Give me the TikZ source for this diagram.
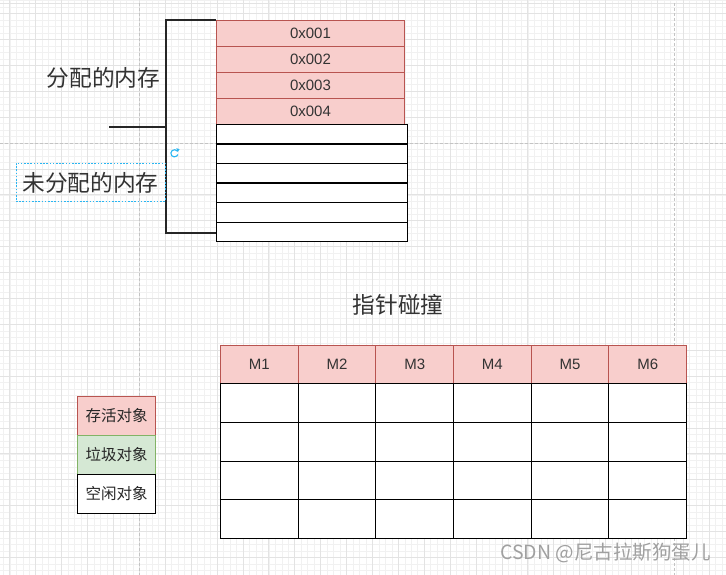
\documentclass[tikz,border=0pt]{standalone}
\usepackage{fontspec}
\setmainfont{Liberation Sans}
\newfontfamily\cjk{Noto Sans CJK SC}
\usetikzlibrary{arrows.meta}
\definecolor{redfill}{HTML}{F8CECC}
\definecolor{redline}{HTML}{B85450}
\definecolor{greenfill}{HTML}{D5E8D4}
\definecolor{greenline}{HTML}{82B366}
\definecolor{gridmajor}{HTML}{E3E3E3}
\definecolor{gridminor}{HTML}{F1F1F1}
\definecolor{pageline}{HTML}{C4C4C4}
\definecolor{selblue}{HTML}{29B6F2}
\definecolor{txt}{HTML}{333333}
\definecolor{wm}{HTML}{A0A0A0}
\begin{document}
\begin{tikzpicture}[x=1pt,y=-1pt,
  minorline/.style={gridminor, line width=0.5pt},
  majorline/.style={gridmajor, line width=0.7pt},
  pagebreak/.style={pageline, line width=0.7pt, dash pattern=on 3pt off 2pt},
  redcell/.style={draw=redline, fill=redfill, line width=1pt, inner sep=0pt,
    minimum width=188pt, minimum height=26pt, anchor=north west,
    font=\fontsize{15}{15}\selectfont, text=txt},
  freecell/.style={draw=black, fill=white, line width=1.2pt, inner sep=0pt,
    minimum width=191pt, minimum height=19.5pt, anchor=north west},
  headcell/.style={draw=redline, fill=redfill, line width=1pt, inner sep=0pt,
    minimum width=77.67pt, minimum height=38pt, anchor=north west,
    font=\fontsize{15}{15}\selectfont, text=txt},
  bodycell/.style={draw=black, fill=white, line width=1pt, inner sep=0pt,
    minimum width=77.67pt, minimum height=38.75pt, anchor=north west},
  legendcell/.style={line width=1pt, inner sep=0pt, minimum width=78pt,
    minimum height=39pt, anchor=north west, font=\cjk\fontsize{15.5}{15.5}\selectfont, text=black!85},
  biglabel/.style={font=\cjk\fontsize{22.7}{23}\selectfont, text=txt, inner sep=0pt},
  bracket/.style={draw=black!85, line width=1.3pt}
]
\useasboundingbox (0,0) rectangle (726,575);
\fill[white] (0,0) rectangle (726,575);
% background grid
\foreach \k in {-1,...,110} {\draw[minorline] ({9.8+\k*6.475},0) -- ({9.8+\k*6.475},575);}
\foreach \k in {-2,...,87} {\draw[minorline] (0,{13.5+\k*6.475}) -- (726,{13.5+\k*6.475});}
\foreach \k in {0,...,27} {\draw[majorline] ({9.8+\k*25.9},0) -- ({9.8+\k*25.9},575);}
\foreach \k in {0,...,21} {\draw[majorline] (0,{13.5+\k*25.9}) -- (726,{13.5+\k*25.9});}
\draw[gridmajor, line width=1pt] (0,3.3) -- (726,3.3);
\draw[pagebreak] (139.3,3.3) -- (139.3,575);
\draw[pagebreak] (674,3.3) -- (674,575);
\draw[pagebreak] (0,143) -- (726,143);

% allocated memory cells
\node[redcell] (a1) at (216,20) {0x001};
\node[redcell] (a2) at (216,46) {0x002};
\node[redcell] (a3) at (216,72) {0x003};
\node[redcell] (a4) at (216,98) {0x004};
% free cells
\foreach \i in {1,...,6} {\node[freecell] (f\i) at (216,{124+(\i-1)*19.5}) {};}

% bracket
\coordinate (btop) at (166,20);
\coordinate (bbot) at (166,233);
\coordinate (bend) at (216,233);
\coordinate (bmid) at (166,127);
\coordinate (stub) at (109,127);
\draw[bracket] (a1.north west) -- (btop) -- (bbot) -- (bend);
\draw[bracket] (stub) -- (bmid);

% labels
\node[biglabel] (lalloc) at (103.5,77.5) {分配的内存};
\node[draw=selblue, line width=0.8pt, dash pattern=on 1.6pt off 1.6pt, minimum width=149pt,
  minimum height=38pt, inner sep=0pt] (selbox) at (90.5,182) {};
\node[biglabel] (lfree) at (90.5,182.5) {未分配的内存};
% rotate handle
\draw[selblue, line width=1.1pt] (177.2,151) arc[start angle=40, end angle=340, radius=3.6pt];
\fill[selblue] (176.3,148.2) -- (179.6,149.2) -- (177.6,152.2) -- cycle;

% pointer bump table
\node[biglabel] (title) at (398,304.5) {指针碰撞};
\foreach \c in {1,...,6} {
  \node[headcell] (m\c) at ({220+(\c-1)*77.67},345) {M\c};
  \foreach \r in {1,...,4} {
    \node[bodycell] (c\c\r) at ({220+(\c-1)*77.67},{383+(\r-1)*38.75}) {};
  }
}

% legend
\node[legendcell, draw=redline, fill=redfill] (live) at (77,396) {存活对象};
\node[legendcell, draw=greenline, fill=greenfill] (garbage) at (77,435) {垃圾对象};
\node[legendcell, draw=black, fill=white] (idle) at (77,474) {空闲对象};

% watermark
\node[anchor=west, inner sep=0pt, text=wm, font=\cjk\fontsize{19.5}{19.5}\selectfont] (mark) at (500,553) {CSDN @尼古拉斯狗蛋儿};
\end{tikzpicture}
\end{document}
